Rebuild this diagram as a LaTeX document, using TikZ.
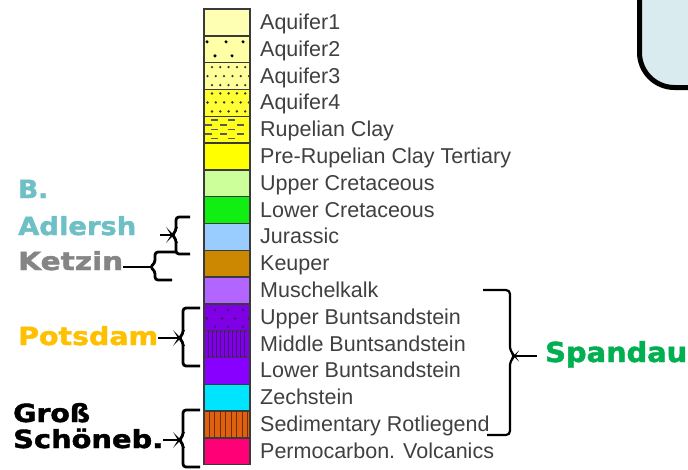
\documentclass[tikz,border=0pt]{standalone}
\usepackage{fontspec}
\usepackage{graphicx}
\setmainfont{Liberation Sans}
\newfontfamily\heavy[BoldFont={DejaVu Sans Bold}, BoldFeatures={FakeBold=1.6}]{DejaVu Sans}
\newcommand\widelab[2]{\resizebox{#1}{\height}{#2}}
\definecolor{c1}{HTML}{FFFFB3}
\definecolor{c2}{HTML}{FFFFA6}
\definecolor{c3}{HTML}{FFFF99}
\definecolor{c4}{HTML}{FFFF33}
\definecolor{c5}{HTML}{FFFF1A}
\definecolor{c6}{HTML}{FFFF00}
\definecolor{c7}{HTML}{CCFF99}
\definecolor{c8}{HTML}{11EE11}
\definecolor{c9}{HTML}{99CCFF}
\definecolor{c10}{HTML}{CC8800}
\definecolor{c11}{HTML}{B366FF}
\definecolor{c12}{HTML}{8000E6}
\definecolor{c13}{HTML}{8000E6}
\definecolor{c14}{HTML}{8800FF}
\definecolor{c15}{HTML}{00E5FF}
\definecolor{c16}{HTML}{E06010}
\definecolor{c17}{HTML}{FF0077}
\definecolor{bordc}{HTML}{3A3A3A}
\definecolor{txtc}{HTML}{404040}
\definecolor{boxc}{HTML}{DAEBEF}
\definecolor{teal}{HTML}{6FC0C6}
\definecolor{ketz}{HTML}{858585}
\definecolor{pots}{HTML}{FFC000}
\definecolor{spand}{HTML}{00B050}
\definecolor{purpdot}{HTML}{4A0A80}
\definecolor{rotl}{HTML}{6A3000}
\begin{document}
\begin{tikzpicture}[x=1pt,y=-1pt,
  layer/.style={inner sep=0pt, outer sep=0pt, minimum width=46pt, minimum height=26.8pt},
  lbl/.style={anchor=base west, text=txtc, inner sep=0pt, font=\fontsize{21.5}{24}\selectfont},
  big/.style={anchor=base west, inner sep=0pt, font=\heavy\bfseries\fontsize{25}{28}\selectfont},
  brace/.style={line width=2.8pt, rounded corners=3pt},
  brace2/.style={line width=2.2pt, rounded corners=4pt}]
\useasboundingbox (0,0) rectangle (688,469);
\clip (0,0) rectangle (688,469);
\fill[white] (0,0) rectangle (688,469);
% top-right box
\draw[line width=5pt, fill=boxc, rounded corners=35pt] (639.5,-80) rectangle (780,87.5);
% layers
\foreach \i/\c/\t in {1/c1/Aquifer1, 2/c2/Aquifer2, 3/c3/Aquifer3, 4/c4/Aquifer4,
  5/c5/Rupelian Clay, 6/c6/Pre-Rupelian Clay Tertiary, 7/c7/Upper Cretaceous,
  8/c8/Lower Cretaceous, 9/c9/Jurassic, 10/c10/Keuper, 11/c11/Muschelkalk,
  12/c12/Upper Buntsandstein, 13/c13/Middle Buntsandstein, 14/c14/Lower Buntsandstein,
  15/c15/Zechstein, 16/c16/Sedimentary Rotliegend, 17/c17/Permocarbon. Volcanics}{
  \node[layer, fill=\c] (L\i) at (227, {9+26.8*(\i-1)+13.4}) {};
  \node[lbl] (T\i) at (260, {9+26.8*(\i-1)+20.5}) {\t};
}
% Aquifer2 dots
\foreach \x in {207,226,243} \fill[black] (\x,41.8) circle (1.7);
\foreach \x in {215,232} \fill[black] (\x,55.8) circle (1.7);
% Aquifer3 dots
\foreach \r in {0,2} \foreach \k in {0,...,4} \fill[black!80] ({212+8.3*\k},{62.6+4.5+9*\r}) circle (1.25);
\foreach \k in {0,...,5} \fill[black!80] ({207.5+8.3*\k},{62.6+13.5}) circle (1.25);
% Aquifer4 dots
\foreach \r in {0,2} \foreach \k in {0,...,4} \fill[black!80] ({212+8.3*\k},{89.4+4+9*\r}) circle (1.35);
\foreach \k in {0,...,5} \fill[black!80] ({207.5+8.3*\k},{89.4+13}) circle (1.35);
% Rupelian dashes
\foreach \r in {0,2,4} \foreach \x in {211,228} \draw[line width=1.5pt, black!65] (\x,{116.2+4+4.6*\r}) -- +(7,0);
\foreach \r in {1,3} \foreach \x in {205,220,237} \draw[line width=1.5pt, black!65] (\x,{116.2+4+4.6*\r}) -- +(7,0);
% Upper Buntsandstein dots
\foreach \x in {215,228,243} \fill[purpdot] (\x,{303.8+6}) circle (1.5);
\foreach \x in {207,222,235,249} \fill[purpdot] (\x,{303.8+14.5}) circle (1.5);
\foreach \x in {215,228,243} \fill[purpdot] (\x,{303.8+23}) circle (1.5);
% Middle Buntsandstein lines
\foreach \k in {0,...,10} \draw[line width=0.9pt, purpdot] ({208+4.1*\k},330.6) -- ({208+4.1*\k},357.4);
% Rotliegend lines
\foreach \k in {0,...,7} \draw[line width=1pt, rotl] ({209+5.5*\k},411) -- ({209+5.5*\k},437.8);
% borders
\foreach \i in {1,...,17} \draw[bordc, line width=1.4pt] (L\i.north west) rectangle (L\i.south east);
% left labels
\node[big, text=teal] (bl) at (18,198) {\widelab{30pt}{B.}};
\node[big, text=teal] (adl) at (18,235) {\widelab{118pt}{Adlersh}};
\node[big, text=ketz] (ket) at (18,270) {\widelab{105pt}{Ketzin}};
\node[big, text=pots] (pot) at (18,345) {\widelab{140pt}{Potsdam}};
\node[big, text=black] (gro) at (13,422) {\widelab{77pt}{Groß}};
\node[big, text=black] (sch) at (13,448) {\widelab{150pt}{Schöneb.}};
\node[big, text=spand, font=\heavy\bfseries\fontsize{27.5}{30}\selectfont] (spa) at (545,362) {\widelab{142pt}{Spandau}};
% braces
\coordinate (adT) at (190,217); \coordinate (adB) at (190,254); \coordinate (adK) at (172,235);
\draw[brace] (adT) -- (176,217) -- (176,231) -- (adK) -- (176,239) -- (176,254) -- (adB);
\draw[line width=2.8pt] (adK) -- (160,235);
\coordinate (keT) at (176,252); \coordinate (keB) at (172,280); \coordinate (keK) at (150,267);
\draw[brace] (keT) -- (155,252) -- (155,263) -- (keK) -- (155,271) -- (155,280) -- (keB);
\draw[line width=2.8pt] (keK) -- (ket.east |- keK);
\coordinate (poT) at (200,308); \coordinate (poB) at (200,366); \coordinate (poK) at (179,338);
\draw[brace] (poT) -- (183,308) -- (183,334) -- (poK) -- (183,342) -- (183,366) -- (poB);
\draw[line width=2.8pt] (poK) -- (pot.east |- poK);
\coordinate (grT) at (200,410); \coordinate (grB) at (200,467); \coordinate (grK) at (179,440);
\draw[brace] (grT) -- (183,410) -- (183,436) -- (grK) -- (183,444) -- (183,467) -- (grB);
\draw[line width=2.8pt] (grK) -- (sch.east |- grK);
\coordinate (spT) at (483,290); \coordinate (spB) at (487,435); \coordinate (spK) at (515,356);
\draw[brace2] (spT) -- (510,290) -- (510,351) -- (spK) -- (510,361) -- (510,435) -- (spB);
\draw[line width=2.2pt] (spK) -- (537,356);
\end{tikzpicture}
\end{document}
